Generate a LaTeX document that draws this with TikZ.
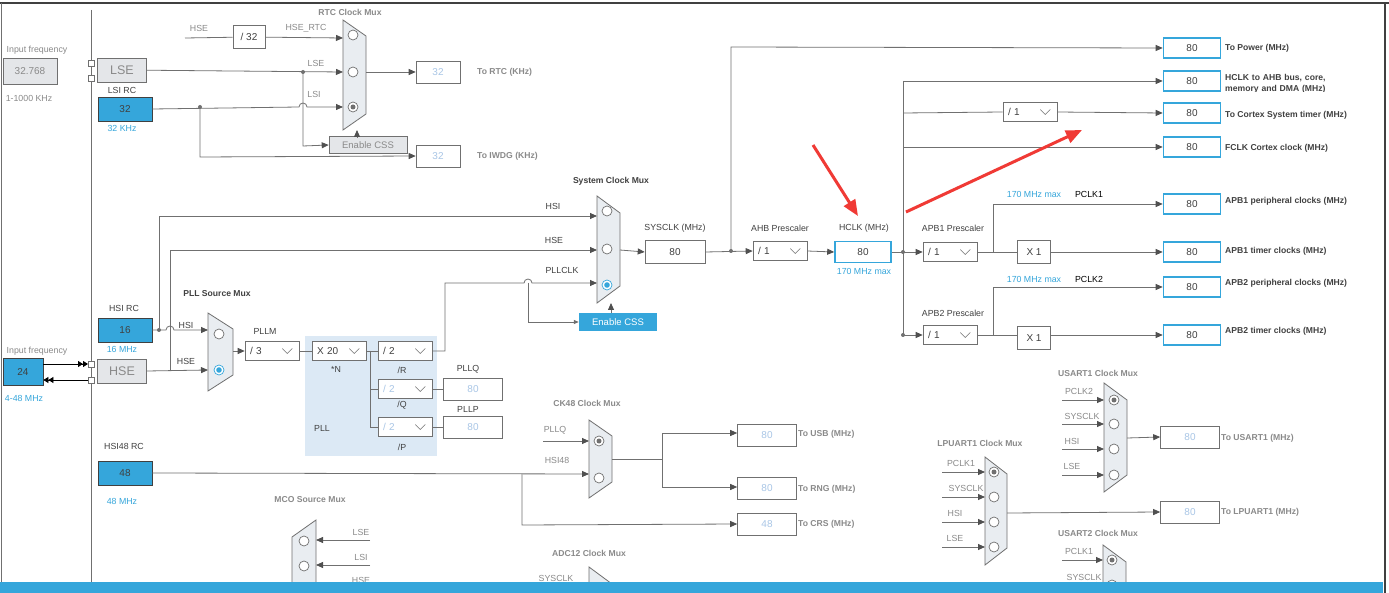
\documentclass[tikz,border=0pt]{standalone}
\usepackage{fontspec}
\setmainfont{Liberation Sans}
\usetikzlibrary{arrows.meta}
\definecolor{lc}{HTML}{707070}
\definecolor{ah}{HTML}{505050}
\definecolor{tc}{HTML}{8A8A8A}
\definecolor{dk}{HTML}{404040}
\definecolor{bl}{HTML}{35A6DB}
\definecolor{ft}{HTML}{A9C6E6}
\definecolor{gf}{HTML}{E4E6E9}
\definecolor{mf}{HTML}{E9EDF1}
\definecolor{pllf}{HTML}{DCE9F5}
\definecolor{rd}{HTML}{F03A35}
\tikzset{
 ln/.style={draw=lc, line width=0.8pt},
 ar/.style={ln, -{Triangle[length=7pt,width=6pt,fill=ah,color=ah]}},
 t/.style={text=tc, font=\fontsize{8.8}{10}\selectfont, inner sep=0},
 td/.style={text=dk, font=\fontsize{8.8}{10}\selectfont, inner sep=0},
 tbl/.style={text=bl, font=\fontsize{8.8}{10}\selectfont, inner sep=0},
 tb/.style={text=dk, font=\bfseries\fontsize{8.6}{10}\selectfont, inner sep=0, anchor=west},
 tbg/.style={text=tc, font=\bfseries\fontsize{8.6}{10}\selectfont, inner sep=0},
 outb/.style={draw=bl, line width=1.6pt, minimum width=57pt, minimum height=20pt, font=\fontsize{10}{10}\selectfont, text=dk, inner sep=0, fill=white},
 fb/.style={draw=lc, line width=0.6pt, minimum width=59pt, minimum height=22pt, font=\fontsize{10}{10}\selectfont, text=ft, inner sep=0, fill=white},
 wb/.style={draw=lc, line width=0.6pt, font=\fontsize{10}{10}\selectfont, text=dk, inner sep=0, fill=white},
 bb/.style={draw=dk, line width=0.8pt, fill=bl, minimum width=54pt, minimum height=24pt, font=\fontsize{10}{10}\selectfont, text=dk, inner sep=0},
 gb/.style={draw=lc, line width=0.6pt, fill=gf, font=\fontsize{10}{10}\selectfont, text=tc, inner sep=0},
 mux/.style={draw=lc, line width=0.8pt, fill=mf},
 dd/.style={wb, minimum width=54pt, minimum height=19pt, text width=44pt, align=left},
 ddf/.style={dd, text=ft},
 opt/.style={draw=lc, line width=0.7pt, fill=white},
 red/.style={draw=rd, line width=3pt, -{Triangle[length=16pt,width=13pt]}}
}
\newcommand\mymux[5]{\draw[mux] (#1,#2) -- (#1+#4,#2+#5) -- (#1+#4,#3-#5) -- (#1,#3) -- cycle;}
\newcommand\myopt[2]{\draw[opt] (#1,#2) circle (5pt);}
\newcommand\mysel[2]{\draw[opt] (#1,#2) circle (5pt); \fill[lc] (#1,#2) circle (2.5pt);}
\newcommand\mybsel[2]{\draw[draw=bl,line width=0.7pt,fill=white] (#1,#2) circle (5pt); \fill[bl] (#1,#2) circle (2.8pt);}
\newcommand\chev[1]{\draw[lc,line width=0.6pt] ([shift={(-17pt,2.5pt)}]#1.east) -- ([shift={(-12pt,-2.5pt)}]#1.east) -- ([shift={(-7pt,2.5pt)}]#1.east);}
\begin{document}
\begin{tikzpicture}[x=1pt,y=-1pt]
\useasboundingbox (0,0) rectangle (1389,593);
\begin{scope}
\clip (0,0) rectangle (1389,593);
\fill[white] (0,0) rectangle (1389,593);
% frame
\draw[dk,line width=2pt] (0,3) -- (1389,3);
\draw[lc,line width=1pt] (1,3) -- (1,593);
\draw[dk,line width=1.5pt] (1385,3) -- (1385,593);
\draw[ln] (91,10) -- (91,593);
% ---------------- LSE / LSI / RTC
\node[t] at (37,50) {Input frequency};
\node[gb,minimum width=54pt,minimum height=26pt] (lsein) at (30,71) {32.768};
\node[t] at (29,98) {1-1000 KHz};
\draw[lc,fill=white,line width=0.6pt] (88,60) rectangle (94,66);
\draw[lc,fill=white,line width=0.6pt] (88,75) rectangle (94,81);
\node[gb,minimum width=49pt,minimum height=24pt,font=\fontsize{12.5}{12}\selectfont] (lse) at (122,70) {LSE};
\node[td] at (122,90) {LSI RC};
\node[bb] (lsi) at (125,109) {32};
\node[tbl] at (122,128) {32 KHz};
\node[tbg] at (350,12) {RTC Clock Mux};
\mymux{343}{20}{130}{23}{16}
\myopt{353}{35}\myopt{353}{72}\mysel{353}{107}
\node[wb,minimum width=32pt,minimum height=23pt] (d32) at (249,37) {/ 32};
\node[t] at (199,28) {HSE};
\node[t] at (306,28) {HSE\_RTC};
\draw[ln] (185,38) -- (d32);
\draw[ar] (d32) -- (343,38);
\node[t] at (316,63) {LSE};
\node[t] at (314,94) {LSI};
\draw[ar] (lse) -- (343,72);
\fill[lc] (303,72) circle (2pt);
\draw[ar] (lsi.east) -- (299,107) arc[start angle=180,end angle=360,radius=4] -- (343,107);
\fill[lc] (200,107) circle (2pt);
\node[gb,minimum width=78pt,minimum height=17pt,font=\fontsize{9.5}{9}\selectfont] (css1) at (368,145) {Enable CSS};
\draw[ar] (303,72) -- (303,146) -- (css1.west);
\draw[ar] (357,137) -- (357,130);
\node[fb,minimum width=44pt] (rtc) at (438,72) {32};
\node[tbg,anchor=west] at (477,72) {To RTC (KHz)};
\node[fb,minimum width=44pt] (iwdg) at (438,156) {32};
\node[tbg,anchor=west] at (477,156) {To IWDG (KHz)};
\draw[ar] (366,72) -- (rtc.west);
\draw[ar] (200,107) -- (200,157) -- (iwdg.west);
% ---------------- HSI / HSE / PLL source
\node[td] at (124,308) {HSI RC};
\node[bb] (hsi) at (125,330) {16};
\node[tbl] at (122,349) {16 MHz};
\node[t] at (37,351) {Input frequency};
\node[bb,minimum width=40pt,minimum height=27pt] (hsein) at (23,372) {24};
\node[tbl] at (24,398) {4-48 MHz};
\draw[lc,fill=white,line width=0.6pt] (88,361) rectangle (94,367);
\draw[lc,fill=white,line width=0.6pt] (88,377) rectangle (94,383);
\draw[black,line width=0.8pt,-{Triangle[length=5pt,width=6pt]Triangle[length=5pt,width=6pt]}] (hsein.east|-0,364) -- (88,364);
\draw[black,line width=0.8pt,-{Triangle[length=5pt,width=6pt]Triangle[length=5pt,width=6pt]}] (88,380) -- (hsein.east|-0,380);
\node[gb,minimum width=49pt,minimum height=24pt,font=\fontsize{12.5}{12}\selectfont] (hse) at (122,371) {HSE};
\node[tbg,text=dk] at (217,294) {PLL Source Mux};
\mymux{208}{313}{391}{25}{16}
\myopt{219}{334}\mybsel{219}{370}
\node[td] at (186,325) {HSI};
\node[td] at (186,361) {HSE};
\draw[ar] (hsi.east) -- (166,330) arc[start angle=180,end angle=360,radius=4] -- (208,330);
\fill[lc] (159,330) circle (2pt);
\draw[ar] (hse.east) -- (208,370);
% HSI/HSE to system mux
\draw[ar] (159,330) -- (159,216) -- (597,216);
\draw[ar] (170,370) -- (170,250) -- (597,250);
\node[td] at (553,206) {HSI};
\node[td] at (554,240) {HSE};
% PLL
\fill[pllf] (305,336) rectangle (437,456);
\node[td] at (265,331) {PLLM};
\node[dd] (pllm) at (272,351) {/ 3};\chev{pllm}
\draw[ar] (233,351) -- (pllm.west);
\node[dd] (pn) at (339,351) {X 20};\chev{pn}
\node[dd] (pr) at (405,351) {/ 2};\chev{pr}
\node[ddf] (pq) at (405,389) {/ 2};\chev{pq}
\node[ddf] (pp) at (405,427) {/ 2};\chev{pp}
\draw[ln] (pllm.east) -- (pn.west);
\draw[ln] (pn.east) -- (pr.west);
\draw[ln] (370,351) -- (370,427) -- (pp.west);
\draw[ln] (370,389) -- (pq.west);
\node[td] at (336,369) {*N};
\node[td] at (402,370) {/R};
\node[td] at (402,405) {/Q};
\node[td] at (402,447) {/P};
\node[td] at (322,428) {PLL};
\node[fb] (pllq) at (473,389) {80};
\node[fb] (pllp) at (473,427) {80};
\node[td] at (468,369) {PLLQ};
\node[td] at (468,409) {PLLP};
\draw[ln] (pq.east) -- (pllq.west);
\draw[ln] (pp.east) -- (pllp.west);
% system clock mux
\node[tbg,text=dk] at (611,181) {System Clock Mux};
\mymux{597}{196}{303}{23}{17}
\myopt{607}{211}\myopt{607}{249}\mybsel{607}{285}
\draw[ar] (pr.east) -- (445,351) -- (445,283) -- (524,283) arc[start angle=180,end angle=360,radius=4] -- (597,283);
\node[td] at (562,270) {PLLCLK};
\node[fill=bl,minimum width=78pt,minimum height=18pt,text=white,font=\fontsize{9.5}{9}\selectfont,inner sep=0] (css2) at (618,322) {Enable CSS};
\draw[ln,-{Triangle[length=5pt,width=4pt]}] (528,283) -- (528,322) -- (css2.west);
\draw[ar] (611,313) -- (611,303);
\node[td] at (675,228) {SYSCLK (MHz)};
\node[wb,minimum width=60pt,minimum height=23pt] (sys) at (675,252) {80};
\draw[ar] (620,250) -- (sys.west);
\node[td] at (780,228) {AHB Prescaler};
\node[dd] (ahb) at (780,251) {/ 1};\chev{ahb}
\draw[ar] (sys.east) -- (ahb.west);
\fill[lc] (731,251) circle (2pt);
\node[td] at (864,228) {HCLK (MHz)};
\node[outb,minimum width=56pt,minimum height=21pt] (hclk) at (863,252) {80};
\node[tbl] at (864,271) {170 MHz max};
\draw[ar] (ahb.east) -- (hclk.west);
% right outputs
\node[outb] (o1) at (1192,48) {80};
\node[outb] (o2) at (1192,81) {80};
\node[outb] (o3) at (1192,113) {80};
\node[outb] (o4) at (1192,147) {80};
\node[outb] (o5) at (1192,204) {80};
\node[outb] (o6) at (1192,252) {80};
\node[outb] (o7) at (1192,287) {80};
\node[outb] (o8) at (1192,335) {80};
\node[tb] at (1225,48) {To Power (MHz)};
\node[tb,align=left,text width=140pt] at (1225,84) {HCLK to AHB bus, core,\\[1pt]memory and DMA (MHz)};
\fill[white] (1224,92) rectangle (1370,100);
\node[tb] at (1225,115) {To Cortex System timer (MHz)};
\node[tb] at (1225,148) {FCLK Cortex clock (MHz)};
\node[tb] at (1225,201) {APB1 peripheral clocks (MHz)};
\node[tb] at (1225,251) {APB1 timer clocks (MHz)};
\node[tb] at (1225,283) {APB2 peripheral clocks (MHz)};
\node[tb] at (1225,331) {APB2 timer clocks (MHz)};
\draw[ar] (731,251) -- (731,47) -- (o1.west);
\draw[ln] (hclk.east) -- (903,252);
\fill[lc] (903,252) circle (2pt);
\fill[lc] (903,335) circle (2pt);
\draw[ln] (903,81) -- (903,335);
\draw[ar] (903,81) -- (o2.west);
\node[dd] (cst) at (1030,112) {/ 1};\chev{cst}
\draw[ln] (903,113) -- (cst.west);
\draw[ar] (cst.east) -- (o3.west);
\draw[ar] (903,147) -- (o4.west);
\node[td] at (953,228) {APB1 Prescaler};
\node[td] at (953,313) {APB2 Prescaler};
\node[dd] (apb1) at (950,252) {/ 1};\chev{apb1}
\node[dd] (apb2) at (950,335) {/ 1};\chev{apb2}
\draw[ar] (903,252) -- (apb1.west);
\draw[ar] (903,335) -- (apb2.west);
\node[wb,minimum width=33pt,minimum height=23pt] (x1) at (1034,252) {X 1};
\node[wb,minimum width=33pt,minimum height=23pt] (x2) at (1034,338) {X 1};
\draw[ln] (apb1.east) -- (x1.west);
\draw[ln] (apb2.east) -- (x2.west|-0,335);
\draw[ar] (x1.east) -- (o6.west);
\draw[ar] (x2.east|-0,335) -- (o8.west);
\draw[ar] (993,252) -- (993,204) -- (o5.west);
\draw[ar] (993,335) -- (993,287) -- (o7.west);
\node[tbl] at (1034,194) {170 MHz max};
\node[text=black,font=\fontsize{8.8}{10}\selectfont,inner sep=0] at (1089,194) {PCLK1};
\node[tbl] at (1034,279) {170 MHz max};
\node[text=black,font=\fontsize{8.8}{10}\selectfont,inner sep=0] at (1089,279) {PCLK2};
% ---------------- HSI48 / CK48
\node[td] at (124,446) {HSI48 RC};
\node[bb] (hsi48) at (125,473) {48};
\node[tbl] at (122,501) {48 MHz};
\node[tbg] at (587,403) {CK48 Clock Mux};
\mymux{589}{420}{498}{23}{16}
\mysel{599}{441}\myopt{599}{478}
\node[t] at (555,430) {PLLQ};
\node[t] at (557,460) {HSI48};
\draw[ar] (543,441) -- (589,441);
\draw[ar] (hsi48.east) -- (589,474);
\node[fb] (usb) at (767,435) {80};
\node[fb] (rng) at (767,488) {80};
\node[fb] (crs) at (767,524) {48};
\node[tbg,anchor=west] at (798,434) {To USB (MHz)};
\node[tbg,anchor=west] at (798,489) {To RNG (MHz)};
\node[tbg,anchor=west] at (798,524) {To CRS (MHz)};
\draw[ln] (612,459) -- (662,459);
\draw[ar] (662,459) -- (662,433) -- (usb.west|-0,433);
\draw[ar] (662,459) -- (662,487) -- (rng.west|-0,487);
\draw[ar] (522,474) -- (522,525) -- (crs.west);
% MCO
\node[tbg] at (310,500) {MCO Source Mux};
\draw[mux] (316,520) -- (316,620) -- (292,604) -- (292,537) -- cycle;
\myopt{304}{541}\myopt{304}{566}
\draw[ar] (370,540) -- (316,540);
\draw[ar] (370,565) -- (316,565);
\node[t] at (361,532) {LSE};
\node[t] at (361,557) {LSI};
\node[t] at (361,580) {HSE};
% ADC12
\node[tbg] at (589,553) {ADC12 Clock Mux};
\draw[mux] (589,567) -- (612,584) -- (612,620) -- (589,620) -- cycle;
\node[t] at (556,578) {SYSCLK};
% LPUART1
\node[tbg] at (980,443) {LPUART1 Clock Mux};
\mymux{985}{457}{565}{22}{17}
\mysel{994}{472}\myopt{994}{497}\myopt{994}{522}\myopt{994}{547}
\draw[ar] (942,472) -- (985,472); \node[t] at (961,463) {PCLK1};
\draw[ar] (942,497) -- (985,497); \node[t] at (966,488) {SYSCLK};
\draw[ar] (942,522) -- (985,522); \node[t] at (955,513) {HSI};
\draw[ar] (942,547) -- (985,547); \node[t] at (955,538) {LSE};
\node[fb] (lpu) at (1190,512) {80};
\node[tbg,anchor=west] at (1221,512) {To LPUART1 (MHz)};
\draw[ar] (1007,513) -- (lpu.west);
% USART1
\node[tbg] at (1098,373) {USART1 Clock Mux};
\mymux{1104}{383}{492}{23}{17}
\mysel{1114}{400}\myopt{1114}{424}\myopt{1114}{449}\myopt{1114}{475}
\draw[ar] (1062,400) -- (1104,400); \node[t] at (1079,391) {PCLK2};
\draw[ar] (1062,424) -- (1104,424); \node[t] at (1082,416) {SYSCLK};
\draw[ar] (1062,449) -- (1104,449); \node[t] at (1072,441) {HSI};
\draw[ar] (1062,475) -- (1104,475); \node[t] at (1072,466) {LSE};
\node[fb] (us1) at (1190,437) {80};
\node[tbg,anchor=west] at (1221,438) {To USART1 (MHz)};
\draw[ar] (1127,438) -- (us1.west);
% USART2
\node[tbg] at (1098,533) {USART2 Clock Mux};
\draw[mux] (1103,545) -- (1126,562) -- (1126,620) -- (1103,620) -- cycle;
\mysel{1112}{560}\myopt{1112}{585}
\draw[ar] (1062,560) -- (1103,560); \node[t] at (1079,551) {PCLK1};
\draw[ar] (1062,585) -- (1103,585); \node[t] at (1084,577) {SYSCLK};
% red arrows
\draw[red] (813,145) -- (858,216);
\draw[red] (906,212) -- (1082,130);
% bottom bar
\fill[bl] (0,582) rectangle (1383,593);
\end{scope}
\end{tikzpicture}
\end{document}
